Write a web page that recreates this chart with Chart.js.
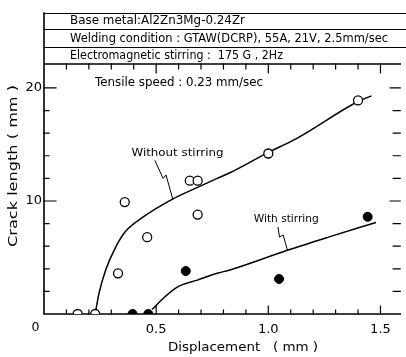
<!DOCTYPE html>
<html>
<head>
<meta charset="utf-8">
<script src="https://cdn.jsdelivr.net/npm/chart.js@4.4.0/dist/chart.umd.min.js"></script>
<style>
    html, body { margin: 0; padding: 0; background: #fff; }
</style>
</head>
<body>
<canvas id="myChart" width="406" height="357"></canvas>
<script>
// measured points, without stirring (open circles)
var openX = [0.15, 0.228, 0.33, 0.36, 0.46, 0.65, 0.685, 0.685, 1.0, 1.40];
var openY = [0, 0, 3.6, 9.9, 6.8, 11.8, 11.8, 8.8, 14.2, 18.9];

// measured points, with stirring (filled circles)
var filledX = [0.395, 0.465, 0.632, 1.048, 1.443];
var filledY = [0, 0, 3.8, 3.1, 8.6];

// hand drawn fit curves
var curveWithoutX = [0.228, 0.246, 0.275, 0.319, 0.363, 0.436, 0.567, 0.684, 0.772, 0.829, 1.0, 1.123, 1.40, 1.46];
var curveWithoutY = [0, 1.9, 3.9, 5.9, 7.3, 8.5, 10.1, 11.2, 12.0, 12.5, 14.3, 15.5, 18.8, 19.3];
var curveWithX = [0.482, 0.538, 0.596, 0.684, 0.772, 0.829, 1.079, 1.268, 1.48];
var curveWithY = [0.4, 1.5, 2.4, 3.0, 3.6, 3.9, 5.6, 6.8, 8.1];

// zigzag leaders from the labels to the curves
var leaderWithoutX = [0.494, 0.531, 0.544, 0.575];
var leaderWithoutY = [13.6, 12.0, 12.3, 10.1];
var leaderWithX = [1.043, 1.050, 1.066, 1.086];
var leaderWithY = [7.7, 6.8, 7.0, 5.6];

// axes
var xTickValues = [0.5, 1.0, 1.5];
var xTickLabels = ['0.5', '1.0', '1.5'];
var yTickValues = [10, 20];
var yTickLabels = ['10', '20'];

var headerLines = [
    'Base metal:Al2Zn3Mg-0.24Zr',
    'Welding condition : GTAW(DCRP), 55A, 21V, 2.5mm/sec',
    'Electromagnetic stirring :  175 G , 2Hz'
];

function pts(xs, ys) {
    return xs.map(function (x, i) { return { x: x, y: ys[i] }; });
}

// draws text stretched/squeezed to a given width, like the lettering of the original
function fitText(ctx, text, x, y, width, size, align, angle) {
    ctx.save();
    ctx.font = size + 'px "DejaVu Sans"';
    var w = ctx.measureText(text).width;
    ctx.translate(x, y);
    if (angle) ctx.rotate(angle);
    ctx.scale(width / w, 1);
    ctx.textAlign = align || 'left';
    ctx.textBaseline = 'middle';
    ctx.fillStyle = '#000';
    ctx.fillText(text, 0, 0);
    ctx.restore();
}

var framePlugin = {
    id: 'frame',
    beforeDatasetsDraw: function (chart) {
        var ctx = chart.ctx, a = chart.chartArea;
        var xs = chart.scales.x, ys = chart.scales.y;
        ctx.save();
        ctx.strokeStyle = '#000';
        ctx.lineCap = 'square';

        // header boxes
        ctx.lineWidth = 1.2;
        ctx.beginPath();
        [13, 29, 47].forEach(function (y) {
            ctx.moveTo(a.left, y + 0.5);
            ctx.lineTo(chart.width, y + 0.5);
        });
        ctx.stroke();

        // axes frame
        ctx.lineWidth = 1.6;
        ctx.beginPath();
        ctx.moveTo(a.left, 13);
        ctx.lineTo(a.left, a.bottom);
        ctx.lineTo(a.right, a.bottom);
        ctx.moveTo(a.left, a.top);
        ctx.lineTo(a.right, a.top);
        ctx.stroke();

        // inward ticks
        ctx.lineWidth = 1.2;
        ctx.beginPath();
        for (var i = 1; i <= 15; i++) {
            var px = xs.getPixelForValue(i / 10);
            var major = i % 5 === 0;
            ctx.moveTo(px, a.bottom);
            ctx.lineTo(px, a.bottom - (major ? 8 : 4));
            ctx.moveTo(px, a.top);
            ctx.lineTo(px, a.top + (major ? 9 : 5));
        }
        for (var j = 1; j <= 10; j++) {
            var py = ys.getPixelForValue(j * 2);
            var big = (j * 2) % 10 === 0;
            ctx.moveTo(a.left, py);
            ctx.lineTo(a.left + (big ? 12 : 5), py);
            ctx.moveTo(a.right, py);
            ctx.lineTo(a.right - (big ? 10 : 7), py);
        }
        ctx.stroke();
        ctx.restore();
    },
    afterDraw: function (chart) {
        var ctx = chart.ctx, xs = chart.scales.x, ys = chart.scales.y;

        fitText(ctx, headerLines[0], 70, 21, 175, 12);
        fitText(ctx, headerLines[1], 70, 38.5, 318, 12);
        fitText(ctx, headerLines[2], 70, 56, 213, 12);
        fitText(ctx, 'Tensile speed : 0.23 mm/sec', 95, 83, 168, 12);

        fitText(ctx, 'Without stirring', xs.getPixelForValue(0.39), ys.getPixelForValue(14.25), 92, 11);
        fitText(ctx, 'With stirring', xs.getPixelForValue(0.935), ys.getPixelForValue(8.4), 65, 10.5);

        fitText(ctx, '0', 35.5, 328, 8, 13, 'center');
        fitText(ctx, 'Displacement   ( mm )', 243, 348, 150, 13, 'center');
        fitText(ctx, 'Crack length ( mm )', 14, 166, 162, 13, 'center', -Math.PI / 2);
    }
};

var ctx = document.getElementById('myChart');
var myChart = new Chart(ctx, {
    type: 'scatter',
    data: {
        datasets: [
            {
                label: 'Without stirring',
                data: pts(openX, openY),
                pointRadius: 4.5,
                pointBackgroundColor: '#fff',
                pointBorderColor: '#000',
                pointBorderWidth: 1.3,
                showLine: false
            },
            {
                label: 'With stirring',
                data: pts(filledX, filledY),
                pointRadius: 4.5,
                pointBackgroundColor: '#000',
                pointBorderColor: '#000',
                pointBorderWidth: 1,
                showLine: false
            },
            {
                data: pts(curveWithoutX, curveWithoutY),
                showLine: true,
                pointRadius: 0,
                borderColor: '#000',
                borderWidth: 1.5,
                cubicInterpolationMode: 'monotone'
            },
            {
                data: pts(curveWithX, curveWithY),
                showLine: true,
                pointRadius: 0,
                borderColor: '#000',
                borderWidth: 1.5,
                cubicInterpolationMode: 'monotone'
            },
            {
                data: pts(leaderWithoutX, leaderWithoutY),
                showLine: true,
                pointRadius: 0,
                borderColor: '#000',
                borderWidth: 1
            },
            {
                data: pts(leaderWithX, leaderWithY),
                showLine: true,
                pointRadius: 0,
                borderColor: '#000',
                borderWidth: 1
            }
        ]
    },
    options: {
        responsive: false,
        animation: false,
        devicePixelRatio: 1,
        layout: { padding: { top: 64, right: 0, left: 0, bottom: 0 } },
        plugins: {
            legend: { display: false },
            tooltip: { enabled: false }
        },
        scales: {
            x: {
                type: 'linear',
                min: 0,
                max: 1.588,
                afterBuildTicks: function (s) {
                    s.ticks = xTickValues.map(function (v) { return { value: v }; });
                },
                afterFit: function (s) { s.height = 43; },
                ticks: {
                    autoSkip: false,
                    maxRotation: 0,
                    padding: 8,
                    color: '#000',
                    font: { family: 'DejaVu Sans', size: 13 },
                    callback: function (v, i) { return xTickLabels[i]; }
                },
                grid: { display: false, drawTicks: false },
                border: { display: false }
            },
            y: {
                type: 'linear',
                min: 0,
                max: 22.12,
                afterBuildTicks: function (s) {
                    s.ticks = yTickValues.map(function (v) { return { value: v }; });
                },
                afterFit: function (s) { s.width = 44; },
                ticks: {
                    padding: 2,
                    color: '#000',
                    font: { family: 'DejaVu Sans', size: 13 },
                    callback: function (v, i) { return yTickLabels[i]; }
                },
                grid: { display: false, drawTicks: false },
                border: { display: false }
            }
        }
    },
    plugins: [framePlugin]
});
</script>
</body>
</html>
